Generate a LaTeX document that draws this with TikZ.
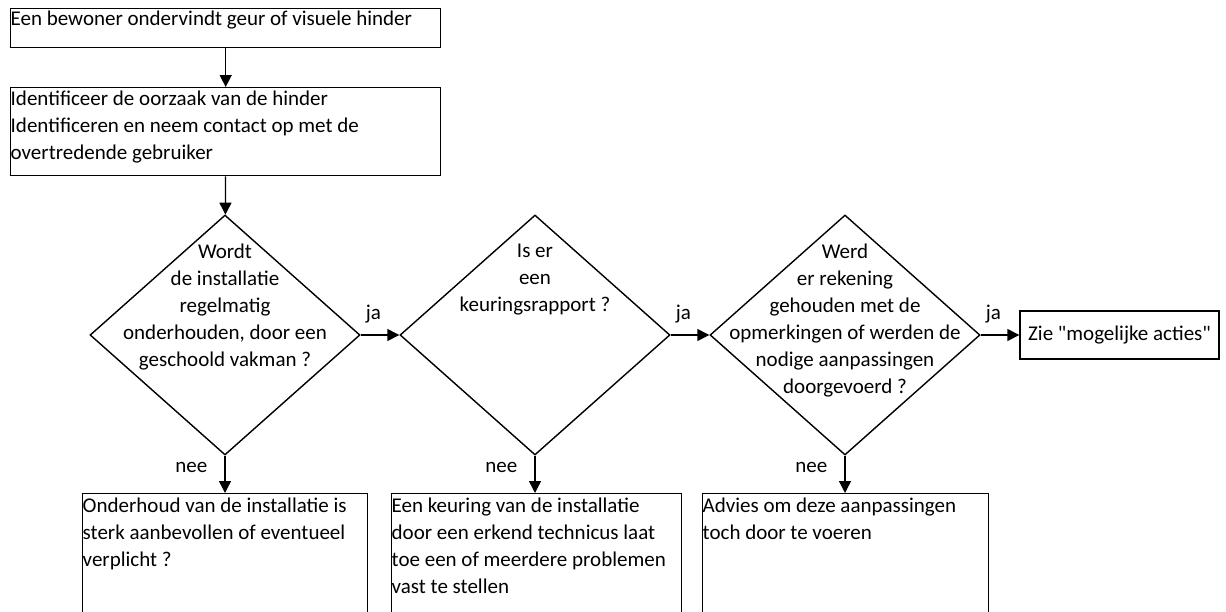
\documentclass[tikz,border=0pt]{standalone}
\usepackage{fontspec}
\setmainfont{Carlito}
\usepackage{tikz}
\usetikzlibrary{positioning,shapes.geometric,arrows.meta,calc}
\definecolor{ink}{HTML}{000000}
\newcommand{\flowfont}{\fontsize{21}{27}\selectfont}
\tikzset{
  >={Triangle[length=12pt,width=12pt]},
  every node/.style={font=\flowfont, text=ink},
  % --- nodes
  box/.style    = {draw=ink, line width=1.4pt, anchor=north west, align=flush left,
                   inner xsep=0pt, inner ysep=0pt},
  endbox/.style = {draw=ink, line width=1.4pt, align=center, inner sep=0pt,
                   minimum width=199pt, minimum height=48pt},
  ask/.style    = {diamond, draw=ink, line width=1.4pt, inner sep=0pt,
                   minimum width=270pt, minimum height=240pt},
  asktxt/.style = {align=center, anchor=north, inner sep=0pt},
  lbl/.style    = {inner sep=0pt},
  % --- edges
  e/.style      = {->, line width=1.4pt, draw=ink},
}

\begin{document}
\begin{tikzpicture}[x=1pt,y=-1pt]
  \useasboundingbox (0,0) rectangle (1226,611);
  \clip (0,0) rectangle (1226,611);

  % steps
  \node[box, text width=430pt, text height=17pt, text depth=22pt] (hinder) at (10,8)
        {Een bewoner ondervindt geur of visuele hinder};
  \node[box, text width=430pt, text height=18pt, text depth=70pt] (oorzaak) at (10,87)
        {Identificeer de oorzaak van de hinder\\Identificeren en neem contact op met de\\overtredende gebruiker};

  % questions
  \node[ask] (onderhoud) at (225,335) {};
  \node[ask] (keuring)   at (535,335) {};
  \node[ask] (rekening)  at (845,335) {};
  \node[asktxt] (onderhoudtxt) at (225,244)
        {Wordt\\de installatie\\regelmatig\\onderhouden, door een\\geschoold vakman ?};
  \node[asktxt] (keuringtxt) at (535,244)
        {Is er\\een\\keuringsrapport ?};
  \node[asktxt] (rekeningtxt) at (845,244)
        {Werd\\er rekening\\gehouden met de\\opmerkingen of werden de\\nodige aanpassingen\\doorgevoerd ?};
  \node[endbox] (acties) at (1119.5,335) {Zie \textquotedbl mogelijke acties\textquotedbl};

  % outcomes
  \node[box, text width=285pt, text height=19pt, text depth=200pt] (verplicht) at (82,493)
        {Onderhoud van de installatie is\\sterk aanbevollen of eventueel\\verplicht ?};
  \node[box, text width=290pt, text height=19pt, text depth=200pt] (technicus) at (391,493)
        {Een keuring van de installatie\\door een erkend technicus laat\\toe een of meerdere problemen\\vast te stellen};
  \node[box, text width=286pt, text height=19pt, text depth=200pt] (advies) at (702,493)
        {Advies om deze aanpassingen\\toch door te voeren};

  \draw[e] (hinder) -- (oorzaak);
  \draw[e] (oorzaak) -- (onderhoud);
  \draw[e] (onderhoud.east) -- node[lbl, pos=0.33, above=11pt] {ja} (keuring.west);
  \draw[e] (keuring.east) -- node[lbl, pos=0.33, above=11pt] {ja} (rekening.west);
  \draw[e] (rekening.east) -- node[lbl, pos=0.33, above=11pt] {ja} (acties.west);
  \draw[e] (onderhoud.south) -- node[lbl, pos=0.32, left=17pt] {nee} (onderhoud.south |- verplicht.north);
  \draw[e] (keuring.south) -- node[lbl, pos=0.32, left=17pt] {nee} (keuring.south |- technicus.north);
  \draw[e] (rekening.south) -- node[lbl, pos=0.32, left=17pt] {nee} (rekening.south |- advies.north);
\end{tikzpicture}
\end{document}
